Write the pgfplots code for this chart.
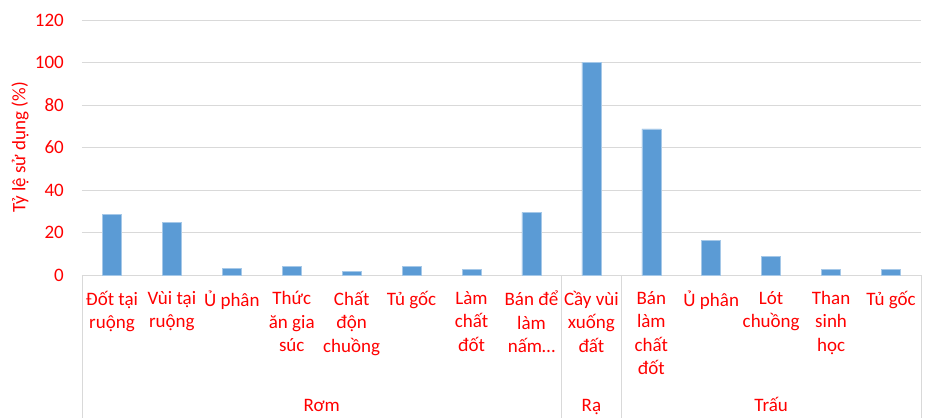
\documentclass[border=0pt]{standalone}
\usepackage{fontspec}
\setmainfont{Carlito}
\usepackage{pgfplots}
\pgfplotsset{compat=1.18}
\definecolor{barblue}{HTML}{5B9BD5}
\definecolor{gridgray}{HTML}{D9D9D9}
\definecolor{labelred}{HTML}{FF0000}

\begin{document}
\begin{tikzpicture}[font=\fontsize{19bp}{23.5bp}\selectfont]
\useasboundingbox (-82bp,-143bp) rectangle (850bp,275bp);
\begin{axis}[
  at={(0,0)}, anchor=south west,
  scale only axis, width=839bp, height=255bp,
  xmin=-0.5, xmax=13.5, ymin=0, ymax=120,
  ytick={0,20,...,120},
  xtick={0,...,13},
  xticklabels={
    {Đốt tại\\ruộng},
    {Vùi tại\\ruộng},
    {Ủ phân},
    {Thức\\ăn gia\\súc},
    {Chất\\độn\\chuồng},
    {Tủ gốc},
    {Làm\\chất\\đốt},
    {Bán để\\làm\\nấm…},
    {Cầy vùi\\xuống\\đất},
    {Bán\\làm\\chất\\đốt},
    {Ủ phân},
    {Lót\\chuồng},
    {Than\\sinh\\học},
    {Tủ gốc}},
  ymajorgrids, grid style={gridgray, line width=0.9bp},
  axis line style={draw=none},
  tick style={draw=none}, major tick length=0pt,
  /pgf/number format/assume math mode=true,
  yticklabel style={text=labelred, anchor=east, inner sep=0pt, xshift=-18bp},
  xticklabel style={text=labelred, anchor=north, inner sep=0pt, align=center, yshift=-16bp},
  every axis y label/.style={at={([xshift=-62bp]axis description cs:0,0.5)}, rotate=90, anchor=center, text=labelred},
  ylabel={Tỷ lệ sử dụng (\%)},
  clip=false,
]
\addplot[ybar, bar width=19bp, fill=barblue, draw=barblue!55!white, line width=0.6bp] coordinates {
  (0,28.4) (1,24.7) (2,3.0) (3,4.0) (4,1.8) (5,4.0) (6,2.5) (7,29.5)
  (8,100) (9,68.8) (10,16.2) (11,8.8) (12,2.7) (13,2.7)
};
% group separators of the two-level category axis
\pgfplotsinvokeforeach{-0.5,7.5,8.5,13.5}{
  \draw[gridgray, line width=0.9bp] (axis cs:#1,0) -- ([yshift=-143bp]axis cs:#1,0);
}
\node[text=labelred, anchor=base] at ([yshift=-136bp]axis cs:3.5,0) {Rơm};
\node[text=labelred, anchor=base] at ([yshift=-136bp]axis cs:8,0) {Rạ};
\node[text=labelred, anchor=base] at ([yshift=-136bp]axis cs:11,0) {Trấu};
\end{axis}
\end{tikzpicture}
\end{document}
